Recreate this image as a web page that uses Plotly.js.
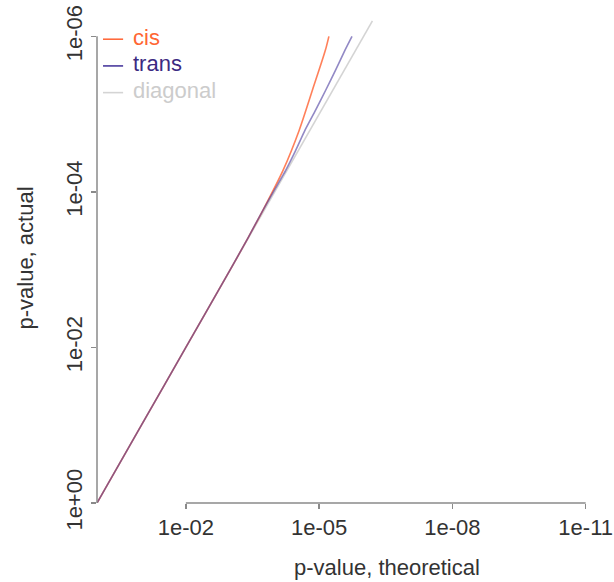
<!DOCTYPE html>
<html>
<head>
<meta charset="utf-8">
<script src="https://cdn.plot.ly/plotly-3.0.1.min.js"></script>
<style>html,body{margin:0;padding:0;background:#fff;}#chart{width:614px;height:582px;}</style>
</head>
<body>
<div id="chart"></div>
<script>
// values in -log10(p) units
const cisTheoretical = [0, 1, 2, 3, 3.4, 3.74, 4.19, 4.55, 4.85, 5.14, 5.22];
const cisActual      = [0, 1, 2, 3, 3.41, 3.77, 4.28, 4.79, 5.31, 5.82, 6.0];
const transTheoretical = [0, 1, 2, 3, 3.4, 3.74, 4.0, 4.25, 4.47, 4.68, 4.92, 5.15, 5.37, 5.58, 5.74];
const transActual      = [0, 1, 2, 3, 3.41, 3.77, 4.03, 4.28, 4.53, 4.79, 5.05, 5.31, 5.565, 5.82, 6.0];
const diagonalValues = [0, 6.2];
const xTickVals = [2, 5, 8, 11];
const xTickText = ['1e-02', '1e-05', '1e-08', '1e-11'];
const yTickVals = [0, 2, 4, 6];
const yTickText = ['1e+00', '1e-02', '1e-04', '1e-06'];
const seriesNames = ['cis', 'trans', 'diagonal'];

const FONT = 'Liberation Sans, Arial, Helvetica, sans-serif';
const AXC = '#8a8a8a';
const lineColors = ['#ff6a3d', '#4a3b9e', '#d4d4d4'];
const textColors = ['#ff6633', '#3c2a82', '#cccccc'];

const traces = [
  {x: diagonalValues, y: diagonalValues, name: seriesNames[2],
   mode: 'lines', line: {color: lineColors[2], width: 1.6}},
  {x: cisTheoretical, y: cisActual, name: seriesNames[0],
   mode: 'lines', line: {color: lineColors[0], width: 1.6, shape: 'spline', smoothing: 0.8}, opacity: 0.85},
  {x: transTheoretical, y: transActual, name: seriesNames[1],
   mode: 'lines', line: {color: lineColors[1], width: 1.6, shape: 'spline', smoothing: 0.5}, opacity: 0.6}
];

// legend drawn as text + short line samples (R-style legend)
const legendTop = 0.9465, legendStep = 0.0545;
const legendShapes = seriesNames.map((n, i) => ({
  type: 'line', xref: 'paper', yref: 'paper', x0: 0.012, x1: 0.052,
  y0: legendTop - i * legendStep, y1: legendTop - i * legendStep,
  line: {color: lineColors[i], width: 1.6}
}));
const legendTexts = seriesNames.map((n, i) => ({
  text: n, xref: 'paper', yref: 'paper', x: 0.068, y: legendTop - i * legendStep, yshift: 2,
  xanchor: 'left', yanchor: 'middle', showarrow: false,
  font: {family: FONT, size: 22, color: textColors[i]}
}));

const layout = {
  width: 614, height: 582,
  margin: {l: 97, r: 15, t: 13, b: 79},
  paper_bgcolor: '#fff', plot_bgcolor: '#fff',
  font: {family: FONT, size: 22, color: '#333'},
  showlegend: false,
  xaxis: {range: [0, 11.3], showgrid: false, zeroline: false, showline: false,
          tickmode: 'array', tickvals: xTickVals, ticktext: xTickText,
          ticks: 'outside', ticklen: 5, tickwidth: 1.5, tickcolor: AXC,
          tickfont: {family: FONT, size: 22, color: '#333'}, fixedrange: true},
  yaxis: {range: [0, 6.3], showgrid: false, zeroline: false, showline: false,
          tickmode: 'array', tickvals: yTickVals, ticktext: yTickText,
          ticks: 'outside', ticklen: 5, tickwidth: 1.5, tickcolor: AXC, tickangle: -90,
          tickfont: {family: FONT, size: 22, color: '#333'},
          title: {text: 'p-value, actual', font: {family: FONT, size: 22, color: '#333'}, standoff: 22},
          fixedrange: true},
  shapes: [
    {type: 'line', xref: 'x', yref: 'paper', x0: xTickVals[0], x1: xTickVals[xTickVals.length - 1], y0: 0, y1: 0,
     line: {color: AXC, width: 1.5}},
    {type: 'line', xref: 'paper', yref: 'y', x0: 0, x1: 0, y0: yTickVals[0], y1: yTickVals[yTickVals.length - 1],
     line: {color: AXC, width: 1.5}}
  ].concat(legendShapes),
  annotations: [
    {text: 'p-value, theoretical', xref: 'paper', yref: 'paper', x: 0.577, y: 0, yshift: -50,
     xanchor: 'center', yanchor: 'top', showarrow: false, font: {family: FONT, size: 22, color: '#333'}}
  ].concat(legendTexts)
};

Plotly.newPlot('chart', traces, layout, {displayModeBar: false, staticPlot: true});
</script>
</body>
</html>
